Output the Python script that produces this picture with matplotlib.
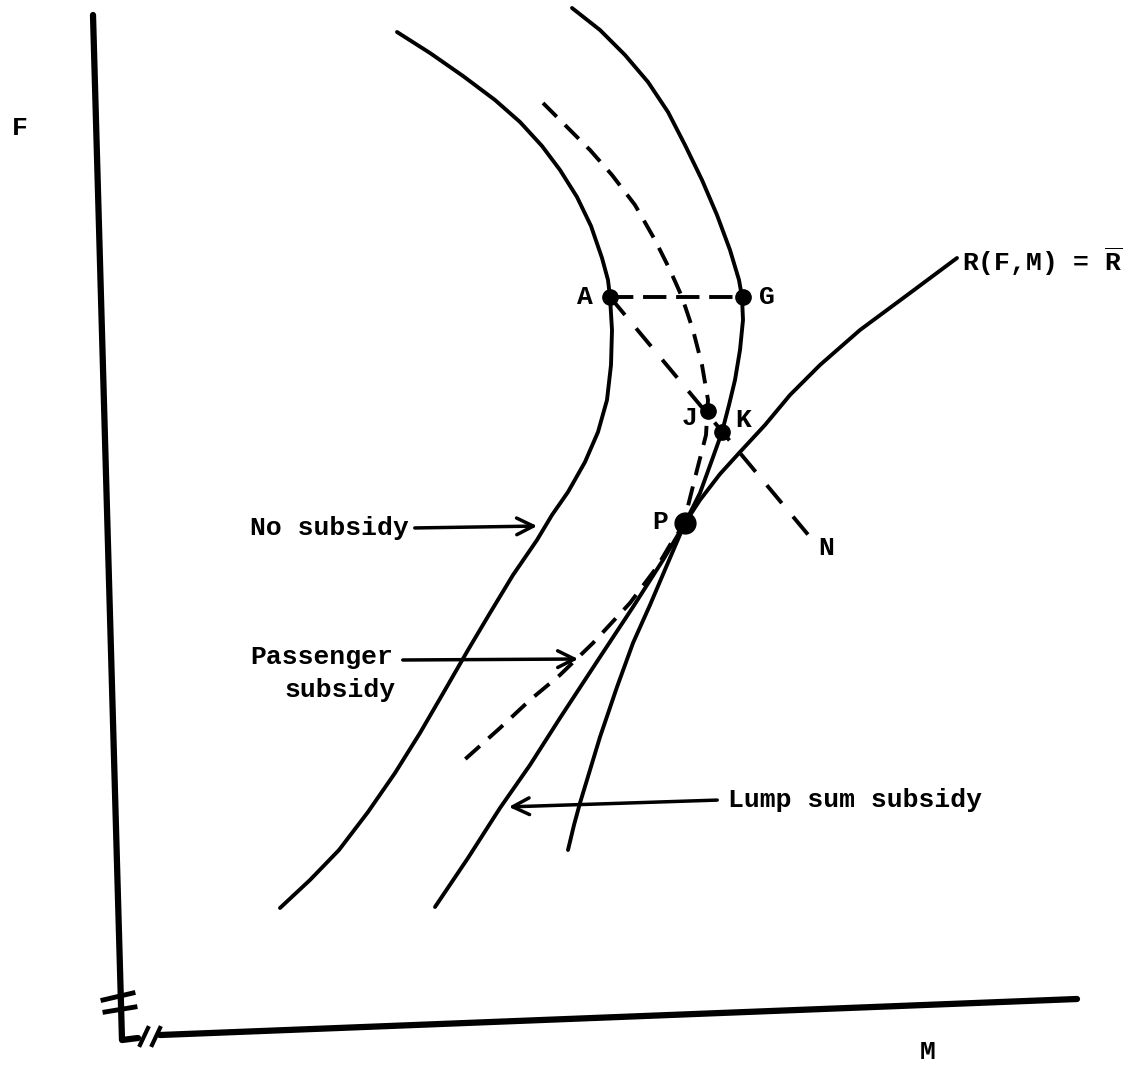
import matplotlib
matplotlib.use('Agg')
import matplotlib.pyplot as plt

plt.rcParams['font.family'] = ['Liberation Mono', 'DejaVu Sans Mono']
plt.rcParams['font.weight'] = 'bold'
plt.rcParams['mathtext.fontset'] = 'custom'
plt.rcParams['mathtext.tt'] = 'Liberation Mono:bold'
plt.rcParams['mathtext.rm'] = 'Liberation Mono:bold'

no_subsidy_m = [397, 430, 463, 495, 520, 542, 560, 577, 591, 602, 608, 610, 612, 611, 607, 598, 585, 568, 552, 537, 513, 490, 468, 445, 420, 395, 368, 339, 310, 280]
no_subsidy_f = [32, 53, 76, 100, 122, 146, 170, 197, 226, 258, 280, 297, 330, 365, 400, 432, 462, 492, 515, 540, 575, 613, 650, 690, 733, 773, 812, 850, 880, 908]

lump_sum_m = [572, 600, 625, 648, 668, 685, 702, 717, 730, 739, 742, 743, 740, 735, 729, 722, 712, 700, 685, 663, 633, 600, 560, 530, 500, 468, 435]
lump_sum_f = [8, 30, 55, 82, 112, 145, 180, 215, 250, 280, 297, 320, 350, 380, 405, 432, 460, 493, 523, 560, 607, 657, 718, 765, 808, 858, 907]

passenger_m = [543, 565, 590, 612, 635, 655, 670, 682, 693, 702, 708, 706, 697, 687, 685, 670, 657, 630, 593, 560, 530, 500, 462]
passenger_f = [103, 125, 150, 175, 205, 240, 270, 297, 330, 365, 400, 435, 470, 510, 523, 545, 567, 603, 643, 675, 700, 728, 762]

revenue_m = [568, 574, 580, 590, 600, 617, 633, 650, 667, 685, 700, 720, 740, 765, 790, 820, 860, 910, 957]
revenue_f = [850, 825, 803, 770, 737, 687, 643, 605, 565, 523, 500, 474, 452, 425, 395, 365, 330, 293, 258]

# dashed constructions
ag_m = [610, 743]
ag_f = [297, 297]
an_m = [610, 810]
an_f = [297, 537]

# labelled points
pt_names = ['A', 'G', 'J', 'K', 'P']
pt_m = [610, 743, 708, 722, 685]
pt_f = [297, 297, 411, 432, 523]

fig = plt.figure(figsize=(11.33, 10.68), dpi=100)
ax = fig.add_axes([0, 0, 1, 1])
ax.set_xlim(0, 1133)
ax.set_ylim(1068, 0)
ax.axis('off')

lw = 2.8
# axes of the diagram
ax.plot([93, 122, 138], [15, 1040, 1038], color='black', lw=4.5, solid_capstyle='round', solid_joinstyle='round')
ax.plot([160, 1077], [1035, 999], color='black', lw=4.5, solid_capstyle='round')
# break marks
ax.plot([103, 133], [1000, 993], color='black', lw=3.5)
ax.plot([105, 135], [1012, 1007], color='black', lw=3.5)
ax.plot([140, 148], [1045, 1028], color='black', lw=3)
ax.plot([152, 160], [1045, 1028], color='black', lw=3)

ax.plot(no_subsidy_m, no_subsidy_f, color='black', lw=lw, solid_capstyle='round', solid_joinstyle='round')
ax.plot(lump_sum_m, lump_sum_f, color='black', lw=lw, solid_capstyle='round', solid_joinstyle='round')
ax.plot(revenue_m, revenue_f, color='black', lw=lw, solid_capstyle='round', solid_joinstyle='round')
ax.plot(passenger_m, passenger_f, color='black', lw=lw, dashes=(5, 3))
ax.plot(ag_m, ag_f, color='black', lw=lw, dashes=(6, 2.5))
ax.plot(an_m, an_f, color='black', lw=lw, dashes=(6, 4.5))

ax.plot(pt_m[:4], pt_f[:4], 'o', color='black', markersize=11)
ax.plot(pt_m[4:], pt_f[4:], 'o', color='black', markersize=15)

fs = 19
ax.text(585, 297, 'A', fontsize=fs, ha='center', va='center')
ax.text(767, 297, 'G', fontsize=fs, ha='center', va='center')
ax.text(690, 418, 'J', fontsize=fs, ha='center', va='center')
ax.text(743, 420, 'K', fontsize=fs, ha='center', va='center')
ax.text(660, 522, 'P', fontsize=fs, ha='center', va='center')
ax.text(826, 548, 'N', fontsize=fs, ha='center', va='center')
ax.text(20, 128, 'F', fontsize=fs, ha='center', va='center')
ax.text(928, 1052, 'M', fontsize=fs, ha='center', va='center')
ax.text(962, 262, r'R(F,M) = $\overline{\mathtt{R}}$', fontsize=fs, ha='left', va='center')

ax.text(250, 528, 'No subsidy', fontsize=fs, ha='left', va='center')
ax.text(250, 657, 'Passenger', fontsize=fs, ha='left', va='center')
ax.text(284, 690, 'subsidy', fontsize=fs, ha='left', va='center')
ax.text(728, 800, 'Lump sum subsidy', fontsize=fs, ha='left', va='center')

arr = dict(arrowstyle='->', color='black', lw=2.5, mutation_scale=30)
ax.annotate('', xy=(540, 526), xytext=(412, 528), arrowprops=arr)
ax.annotate('', xy=(581, 659), xytext=(400, 660), arrowprops=arr)
ax.annotate('', xy=(506, 807), xytext=(720, 800), arrowprops=arr)

fig.savefig('out.png', dpi=100)
